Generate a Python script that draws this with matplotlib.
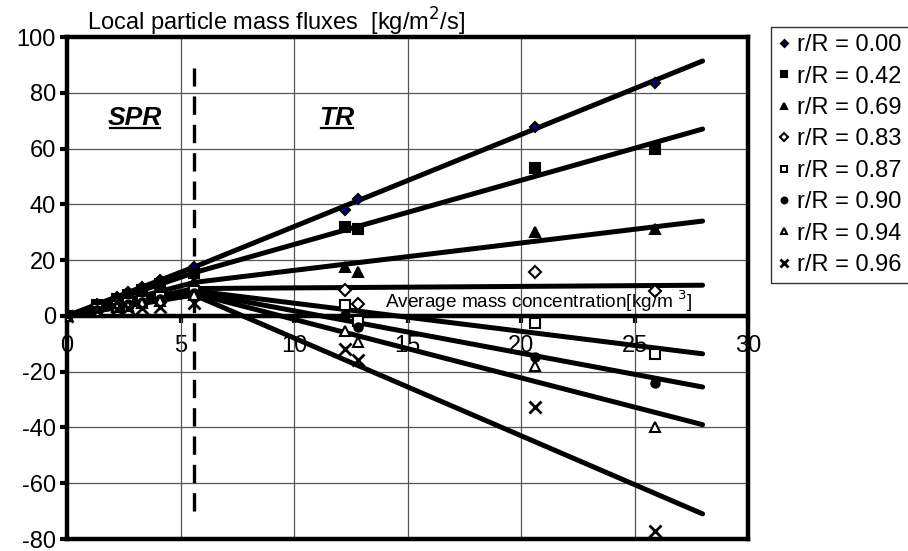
import numpy as np
import matplotlib
matplotlib.use("Agg")
import matplotlib.pyplot as plt
from matplotlib.lines import Line2D

plt.rcParams["font.family"] = ["Liberation Sans", "DejaVu Sans"]
plt.rcParams["axes.unicode_minus"] = False

labels = ["r/R = 0.00", "r/R = 0.42", "r/R = 0.69", "r/R = 0.83",
          "r/R = 0.87", "r/R = 0.90", "r/R = 0.94", "r/R = 0.96"]

# measured concentrations
conc = [0, 1.3, 2.2, 2.7, 3.3, 4.1, 5.6, 12.25, 12.8, 20.6, 25.9]

flux_000 = [0, 4.2, 6.8, 8.4, 10.4, 13.0, 17.6, 38.0, 42.0, 67.7, 83.5]
flux_042 = [0, 3.8, 6.1, 7.5, 9.2, 11.4, 15.5, 32.0, 31.0, 53.0, 60.0]
flux_069 = [0, 3.1, 5.0, 6.0, 7.3, 9.0, 12.0, 17.6, 15.8, 30.0, 31.0]
flux_083 = [0, 2.6, 4.2, 5.0, 6.0, 7.5, 9.8, 9.3, 4.3, 15.8, 9.0]
flux_087 = [0, 2.3, 3.7, 4.5, 5.4, 6.6, 8.8, 4.0, -2.0, -2.5, -13.6]
flux_090 = [0, 2.1, 3.4, 4.1, 5.0, 6.2, 8.3, 0.3, -4.0, -14.6, -24.0]
flux_094 = [0, 1.9, 3.1, 3.7, 4.5, 5.5, 7.6, -5.4, -9.3, -18.0, -40.0]
flux_096 = [0, 1.6, 2.4, 2.7, 3.0, 3.1, 4.6, -12.0, -15.8, -32.5, -77.0]
fluxes = [flux_000, flux_042, flux_069, flux_083,
          flux_087, flux_090, flux_094, flux_096]

# trend lines: SPR part from origin, TR part to c = 28
fit_x = [0, 5.6, 28]
fit_000 = [0, 17.5, 91.4]
fit_042 = [0, 15.5, 67.0]
fit_069 = [0, 12.0, 34.0]
fit_083 = [0, 9.8, 11.0]
fit_087 = [0, 9.0, -13.6]
fit_090 = [0, 8.5, -25.5]
fit_094 = [0, 8.0, -39.0]
fit_096 = [0, 7.5, -71.0]
fits = [fit_000, fit_042, fit_069, fit_083,
        fit_087, fit_090, fit_094, fit_096]

regime_border = 5.6

markers = ["D", "s", "^", "D", "s", "o", "^", "x"]
faces = ["#000080", "black", "black", "white", "white", "black", "white", "black"]
sizes = [5, 7, 7, 6, 7, 6, 7, 8]

fig = plt.figure(figsize=(9.08, 5.51), dpi=100)
ax = fig.add_axes([67/908, 12/551, 681/908, 502/551])

ax.set_xlim(0, 30)
ax.set_ylim(-80, 100)
ax.set_xticks(np.arange(0, 31, 5))
ax.set_yticks(np.arange(-80, 101, 20))
ax.grid(True, color="#555555", linewidth=0.9)
ax.set_axisbelow(True)
for s in ax.spines.values():
    s.set_linewidth(3.2)
ax.tick_params(axis="x", bottom=False, labelbottom=False)
ax.tick_params(axis="y", direction="out", length=5, width=3, labelsize=17, pad=3)

# x axis at zero
ax.axhline(0, color="black", linewidth=3.2, zorder=2)
sec = ax.secondary_xaxis(80/180)
sec.set_xticks(np.arange(0, 31, 5))
sec.spines["bottom"].set_visible(False)
sec.tick_params(direction="out", length=5, width=3, labelsize=17, pad=9)

ax.plot([regime_border, regime_border], [-70, 89], color="black",
        linewidth=2.4, dashes=(5.5, 3), zorder=3)

for fy in fits:
    ax.plot(fit_x, fy, color="black", linewidth=3.6, solid_capstyle="round", zorder=4)

for i in range(len(labels)):
    ax.plot(conc, fluxes[i], linestyle="none", marker=markers[i], markersize=sizes[i],
            markerfacecolor=faces[i], markeredgecolor="black",
            markeredgewidth=2 if markers[i] == "x" else 1.5, label=labels[i], zorder=5)

fig.text(87/908, 1-22/551, "Local particle mass fluxes  [kg/m$^2$/s]",
         fontsize=17, va="center", ha="left")
ax.text(14.0, 0.6, "Average mass concentration[kg/m $^3$]", fontsize=13.7,
        va="bottom", ha="left", zorder=6)

for name, xc in [("SPR", 3.0), ("TR", 11.9)]:
    t = ax.text(xc, 71, name, fontsize=19, fontweight="bold", fontstyle="italic",
                ha="center", va="center", zorder=6)
    fig.canvas.draw()
    bb = t.get_window_extent().transformed(fig.transFigure.inverted())
    fig.add_artist(Line2D([bb.x0 + 0.002, bb.x1 - 0.002], [bb.y0 + 0.004, bb.y0 + 0.004],
                          color="black", linewidth=1.6))

leg = ax.legend(loc="upper left", bbox_to_anchor=(771/908, 1-27/551),
                bbox_transform=fig.transFigure, frameon=True, fancybox=False,
                edgecolor="black", fontsize=17, handlelength=0.5, handletextpad=0.3,
                borderpad=0.3, labelspacing=0.4, markerscale=0.7, borderaxespad=0)
leg.get_frame().set_linewidth(1.0)

fig.savefig("out.png", dpi=100)
